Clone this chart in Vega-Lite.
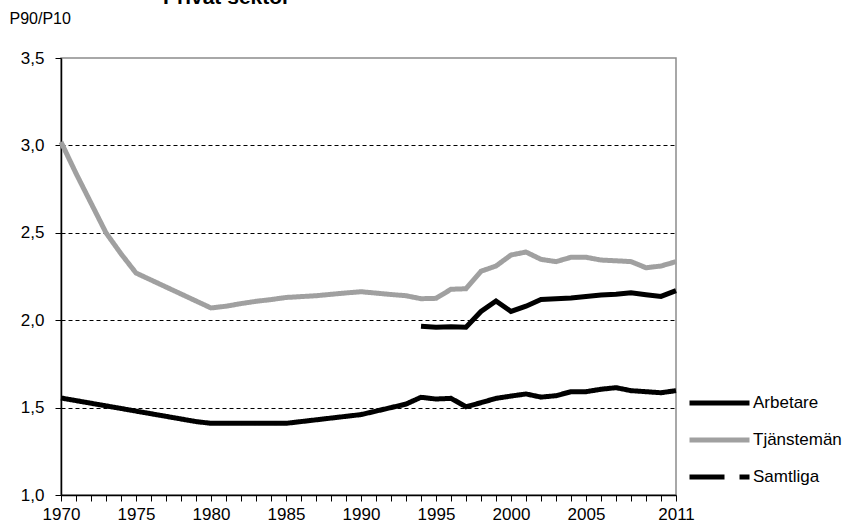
{
  "$schema": "https://vega.github.io/schema/vega-lite/v6.json",
  "width": 615,
  "height": 437,
  "autosize": {"type": "none"},
  "padding": {"left": 61, "top": 58, "right": 173, "bottom": 31},
  "background": "white",
  "title": {"text": "Privat sektor", "anchor": "start", "frame": "group", "offset": -15, "baseline": "alphabetic", "dx": 102, "fontSize": 21, "fontWeight": "bold", "font": "Liberation Sans", "color": "black"},
  "config": {
    "font": "Liberation Sans",
    "view": {"stroke": "#8c8c8c", "strokeWidth": 1.5}
  },
  "data": {"values": [
    {"year": 1970, "series": "Arbetare", "value": 1.555},
    {"year": 1971, "series": "Arbetare", "value": 1.54},
    {"year": 1972, "series": "Arbetare", "value": 1.525},
    {"year": 1973, "series": "Arbetare", "value": 1.51},
    {"year": 1974, "series": "Arbetare", "value": 1.495},
    {"year": 1975, "series": "Arbetare", "value": 1.48},
    {"year": 1976, "series": "Arbetare", "value": 1.465},
    {"year": 1977, "series": "Arbetare", "value": 1.45},
    {"year": 1978, "series": "Arbetare", "value": 1.435},
    {"year": 1979, "series": "Arbetare", "value": 1.42},
    {"year": 1980, "series": "Arbetare", "value": 1.41},
    {"year": 1981, "series": "Arbetare", "value": 1.41},
    {"year": 1982, "series": "Arbetare", "value": 1.41},
    {"year": 1983, "series": "Arbetare", "value": 1.41},
    {"year": 1984, "series": "Arbetare", "value": 1.41},
    {"year": 1985, "series": "Arbetare", "value": 1.41},
    {"year": 1986, "series": "Arbetare", "value": 1.42},
    {"year": 1987, "series": "Arbetare", "value": 1.43},
    {"year": 1988, "series": "Arbetare", "value": 1.44},
    {"year": 1989, "series": "Arbetare", "value": 1.45},
    {"year": 1990, "series": "Arbetare", "value": 1.46},
    {"year": 1991, "series": "Arbetare", "value": 1.48},
    {"year": 1992, "series": "Arbetare", "value": 1.5},
    {"year": 1993, "series": "Arbetare", "value": 1.52},
    {"year": 1994, "series": "Arbetare", "value": 1.559},
    {"year": 1995, "series": "Arbetare", "value": 1.549},
    {"year": 1996, "series": "Arbetare", "value": 1.553},
    {"year": 1997, "series": "Arbetare", "value": 1.505},
    {"year": 1998, "series": "Arbetare", "value": 1.528},
    {"year": 1999, "series": "Arbetare", "value": 1.553},
    {"year": 2000, "series": "Arbetare", "value": 1.566},
    {"year": 2001, "series": "Arbetare", "value": 1.578},
    {"year": 2002, "series": "Arbetare", "value": 1.56},
    {"year": 2003, "series": "Arbetare", "value": 1.568},
    {"year": 2004, "series": "Arbetare", "value": 1.591},
    {"year": 2005, "series": "Arbetare", "value": 1.591},
    {"year": 2006, "series": "Arbetare", "value": 1.605},
    {"year": 2007, "series": "Arbetare", "value": 1.614},
    {"year": 2008, "series": "Arbetare", "value": 1.597},
    {"year": 2009, "series": "Arbetare", "value": 1.591},
    {"year": 2010, "series": "Arbetare", "value": 1.585},
    {"year": 2011, "series": "Arbetare", "value": 1.597},
    {"year": 1970, "series": "Tjänstemän", "value": 3.02},
    {"year": 1971, "series": "Tjänstemän", "value": 2.84},
    {"year": 1972, "series": "Tjänstemän", "value": 2.67},
    {"year": 1973, "series": "Tjänstemän", "value": 2.5},
    {"year": 1974, "series": "Tjänstemän", "value": 2.38},
    {"year": 1975, "series": "Tjänstemän", "value": 2.27},
    {"year": 1976, "series": "Tjänstemän", "value": 2.23},
    {"year": 1977, "series": "Tjänstemän", "value": 2.19},
    {"year": 1978, "series": "Tjänstemän", "value": 2.15},
    {"year": 1979, "series": "Tjänstemän", "value": 2.11},
    {"year": 1980, "series": "Tjänstemän", "value": 2.07},
    {"year": 1981, "series": "Tjänstemän", "value": 2.08},
    {"year": 1982, "series": "Tjänstemän", "value": 2.095},
    {"year": 1983, "series": "Tjänstemän", "value": 2.108},
    {"year": 1984, "series": "Tjänstemän", "value": 2.118},
    {"year": 1985, "series": "Tjänstemän", "value": 2.13},
    {"year": 1986, "series": "Tjänstemän", "value": 2.135},
    {"year": 1987, "series": "Tjänstemän", "value": 2.14},
    {"year": 1988, "series": "Tjänstemän", "value": 2.148},
    {"year": 1989, "series": "Tjänstemän", "value": 2.156},
    {"year": 1990, "series": "Tjänstemän", "value": 2.163},
    {"year": 1991, "series": "Tjänstemän", "value": 2.155},
    {"year": 1992, "series": "Tjänstemän", "value": 2.147},
    {"year": 1993, "series": "Tjänstemän", "value": 2.14},
    {"year": 1994, "series": "Tjänstemän", "value": 2.123},
    {"year": 1995, "series": "Tjänstemän", "value": 2.125},
    {"year": 1996, "series": "Tjänstemän", "value": 2.177},
    {"year": 1997, "series": "Tjänstemän", "value": 2.18},
    {"year": 1998, "series": "Tjänstemän", "value": 2.28},
    {"year": 1999, "series": "Tjänstemän", "value": 2.31},
    {"year": 2000, "series": "Tjänstemän", "value": 2.373},
    {"year": 2001, "series": "Tjänstemän", "value": 2.39},
    {"year": 2002, "series": "Tjänstemän", "value": 2.348},
    {"year": 2003, "series": "Tjänstemän", "value": 2.335},
    {"year": 2004, "series": "Tjänstemän", "value": 2.36},
    {"year": 2005, "series": "Tjänstemän", "value": 2.36},
    {"year": 2006, "series": "Tjänstemän", "value": 2.344},
    {"year": 2007, "series": "Tjänstemän", "value": 2.34},
    {"year": 2008, "series": "Tjänstemän", "value": 2.335},
    {"year": 2009, "series": "Tjänstemän", "value": 2.3},
    {"year": 2010, "series": "Tjänstemän", "value": 2.31},
    {"year": 2011, "series": "Tjänstemän", "value": 2.335},
    {"year": 1994, "series": "Samtliga", "value": 1.965},
    {"year": 1995, "series": "Samtliga", "value": 1.959},
    {"year": 1996, "series": "Samtliga", "value": 1.963},
    {"year": 1997, "series": "Samtliga", "value": 1.96},
    {"year": 1998, "series": "Samtliga", "value": 2.05},
    {"year": 1999, "series": "Samtliga", "value": 2.11},
    {"year": 2000, "series": "Samtliga", "value": 2.05},
    {"year": 2001, "series": "Samtliga", "value": 2.08},
    {"year": 2002, "series": "Samtliga", "value": 2.118},
    {"year": 2003, "series": "Samtliga", "value": 2.123},
    {"year": 2004, "series": "Samtliga", "value": 2.127},
    {"year": 2005, "series": "Samtliga", "value": 2.136},
    {"year": 2006, "series": "Samtliga", "value": 2.144},
    {"year": 2007, "series": "Samtliga", "value": 2.148},
    {"year": 2008, "series": "Samtliga", "value": 2.157},
    {"year": 2009, "series": "Samtliga", "value": 2.146},
    {"year": 2010, "series": "Samtliga", "value": 2.136},
    {"year": 2011, "series": "Samtliga", "value": 2.169}
  ]},
  "encoding": {
    "x": {
      "field": "year", "type": "quantitative",
      "scale": {"domain": [1970, 2011], "nice": false, "zero": false},
      "axis": {
        "title": null,
        "values": [1970,1971,1972,1973,1974,1975,1976,1977,1978,1979,1980,1981,1982,1983,1984,1985,1986,1987,1988,1989,1990,1991,1992,1993,1994,1995,1996,1997,1998,1999,2000,2001,2002,2003,2004,2005,2006,2007,2008,2009,2010,2011],
        "labelExpr": "((datum.value % 5 == 0 && datum.value <= 2005) || datum.value == 2011) ? format(datum.value, 'd') : ''",
        "grid": false,
        "domainColor": "black",
        "domainWidth": 1.5,
        "tickColor": "black",
        "tickSize": 6,
        "tickWidth": 1,
        "labelFontSize": 17,
        "labelColor": "black",
        "labelPadding": 5,
        "labelFlush": false,
        "labelOverlap": false
      }
    },
    "y": {
      "field": "value", "type": "quantitative",
      "scale": {"domain": [1, 3.5], "nice": false, "zero": false},
      "axis": {
        "title": "P90/P10",
        "titleAngle": 0,
        "titleX": -52,
        "titleY": -35,
        "titleAlign": "left",
        "titleBaseline": "alphabetic",
        "titleFontSize": 16,
        "titleFontWeight": "normal",
        "titleColor": "black",
        "values": [1, 1.5, 2, 2.5, 3, 3.5],
        "labelExpr": "replace(format(datum.value, '.1f'), '.', ',')",
        "domainColor": "black",
        "domainWidth": 1.5,
        "tickColor": "black",
        "tickSize": 6,
        "labelFontSize": 17,
        "labelColor": "black",
        "labelPadding": 11,
        "grid": true,
        "gridColor": "black",
        "gridDash": [4, 3],
        "gridWidth": 1,
        "gridOpacity": {"condition": {"test": "datum.value == 1 || datum.value == 3.5", "value": 0}, "value": 1}
      }
    }
  },
  "layer": [
    {
      "transform": [{"filter": "datum.series == 'Samtliga'"}],
      "mark": {"type": "line", "color": "black", "strokeWidth": 5, "strokeJoin": "miter"}
    },
    {
      "transform": [{"filter": "datum.series != 'Samtliga'"}],
      "mark": {"type": "line", "strokeWidth": 5, "strokeJoin": "miter"},
      "encoding": {
        "color": {
          "field": "series", "type": "nominal",
          "scale": {"domain": ["Arbetare", "Tjänstemän", "Samtliga"], "range": ["black", "#a0a0a0", "black"]},
          "legend": {
            "title": null,
            "orient": "none",
            "legendX": 626,
            "legendY": 335,
            "symbolType": "stroke",
            "symbolSize": 3600,
            "symbolStrokeWidth": 5,
            "clipHeight": 20,
            "rowPadding": 17,
            "labelFontSize": 17,
            "labelColor": "black",
            "labelOffset": 1
          }
        },
        "strokeDash": {
          "field": "series", "type": "nominal",
          "scale": {"domain": ["Arbetare", "Tjänstemän", "Samtliga"], "range": [[1, 0], [1, 0], [35, 15, 10, 100]]},
          "legend": {
            "title": null,
            "orient": "none",
            "legendX": 626,
            "legendY": 335,
            "symbolType": "stroke",
            "symbolSize": 3600,
            "symbolStrokeWidth": 5,
            "clipHeight": 20,
            "rowPadding": 17,
            "labelFontSize": 17,
            "labelColor": "black",
            "labelOffset": 1
          }
        }
      }
    }
  ]
}
